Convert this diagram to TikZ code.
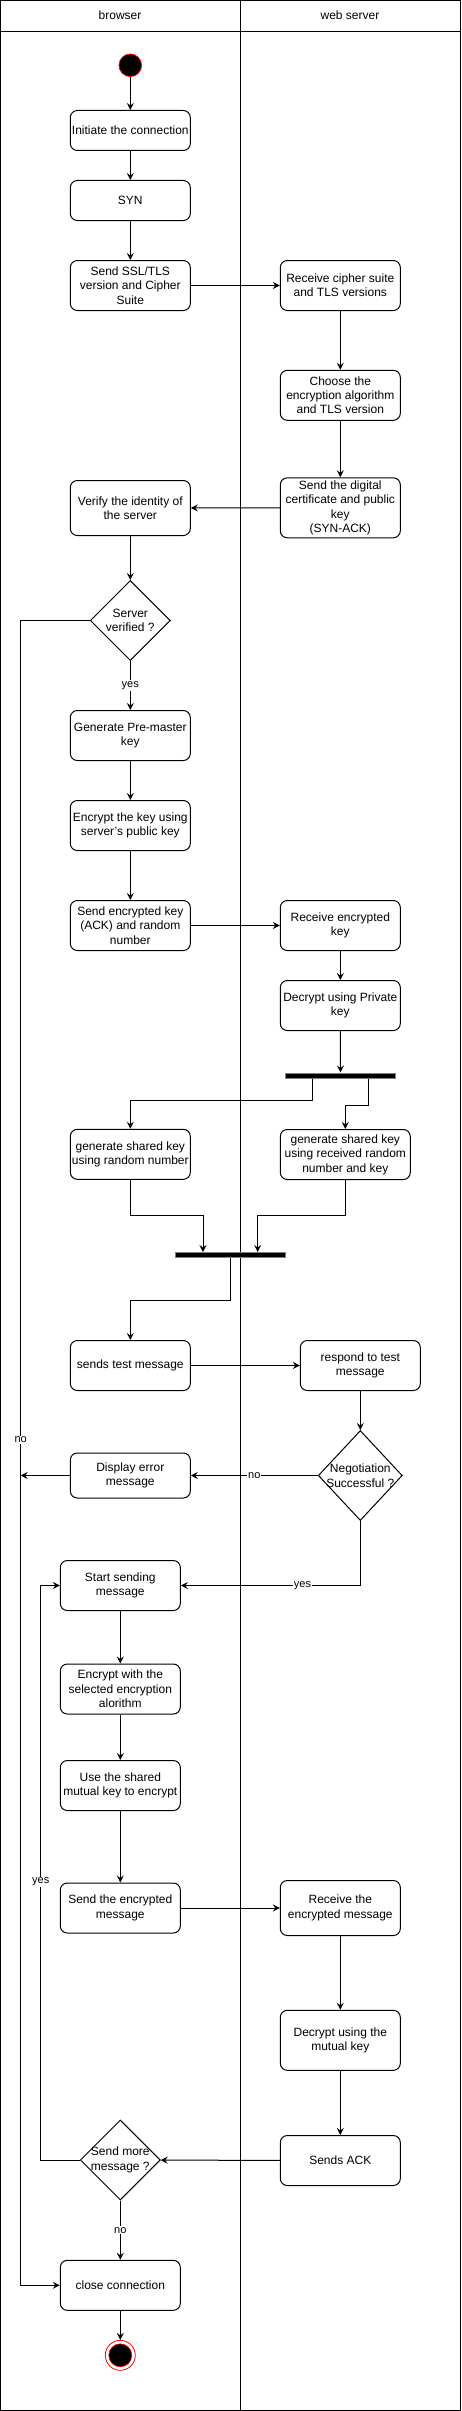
\documentclass[tikz,border=0pt]{standalone}
\usepackage{fontspec}
\setmainfont{Liberation Sans}
\usetikzlibrary{shapes.geometric,arrows.meta,calc,positioning}

\begin{document}
\begin{tikzpicture}[x=1pt,y=-1pt,line width=1pt,
  every node/.style={align=center,font=\fontsize{12}{14.4}\selectfont,inner sep=0pt},
  act/.style={draw,rounded corners=7pt,minimum width=120pt,minimum height=50pt},
  decision/.style={draw,diamond,minimum width=80pt,minimum height=80pt},
  bar/.style={draw=gray,fill=black,minimum width=110pt,minimum height=5pt},
  initial/.style={circle,draw=red,line width=0.8pt,fill=black,minimum size=22.6pt},
  flow/.style={-{Stealth[length=7pt,width=7pt,inset=2.5pt]}},
  lbl/.style={fill=white,font=\fontsize{11}{13}\selectfont,inner sep=1pt}]
\useasboundingbox (0,0) rectangle (462,2411);
% swimlanes
\draw (0.5,0.5) rectangle (460.5,2410.5);
\draw (0.5,31.7) -- (460.5,31.7);
\draw (240.5,0.5) -- (240.5,2410.5);
\node (LaneBrowser) at (120,15) {browser};
\node (LaneServer) at (350,15) {web server};
% handshake
\node [initial] (Start) at (130.3,65.3) {};
\node [act,minimum height=40pt] (Init) at (130.3,130.5) {Initiate the connection};
\node [act,minimum height=40pt] (Syn) at (130.3,200.5) {SYN};
\node [act] (SendVersion) at (130.3,285.5) {Send SSL/TLS\\version and Cipher\\Suite};
\node [act] (RecvSuite) at (340.3,285.5) {Receive cipher suite\\and TLS versions};
\node [act] (Choose) at (340.3,395.3) {Choose the\\encryption algorithm\\and TLS version};
\node [act,minimum height=60pt] (SendCert) at (340.3,507.8) {Send the digital\\certificate and public\\key\\(SYN-ACK)};
\node [act,minimum height=55pt] (Verify) at (130.3,508) {Verify the identity of\\the server};
\node [decision,label={[align=center]center:Server\\verified ?}] (Verified) at (130.3,620.5) {};
\node [act] (PreMaster) at (130.3,735.5) {Generate Pre-master\\key};
\node [act] (EncKey) at (130.3,825.5) {Encrypt the key using\\server's public key};
\node [act] (SendKey) at (130.3,925.5) {Send encrypted key\\(ACK) and random\\number};
\node [act] (RecvKey) at (340.3,925.5) {Receive encrypted\\key};
\node [act] (DecKey) at (340.3,1005.5) {Decrypt using Private\\key};
\node [bar] (Fork) at (340.5,1075.5) {};
\node [act] (SharedB) at (130.3,1154.3) {generate shared key\\using random number};
\node [act,minimum width=130pt] (SharedS) at (345.3,1154.5) {generate shared key\\using received random\\number and key};
\node [bar] (Join) at (230.5,1255) {};
% test
\node [act] (Test) at (130.3,1365.5) {sends test message};
\node [act] (Respond) at (360.3,1365.5) {respond to test\\message};
\node [decision,minimum width=84pt,minimum height=90pt,label={[align=center]center:Negotiation\\Successful ?}] (Negot) at (360.3,1475.5) {};
\node [act,minimum height=45pt] (Error) at (130.3,1475.5) {Display error\\message};
% messages
\node [act] (StartSend) at (120.3,1585.5) {Start sending\\message};
\node [act] (EncAlg) at (120.3,1689) {Encrypt with the\\selected encryption\\alorithm};
\node [act] (Mutual) at (120.3,1785.5) {Use the shared\\mutual key to encrypt};
\node [act] (SendMsg) at (120.3,1908) {Send the encrypted\\message};
\node [act,minimum height=55pt] (RecvMsg) at (340.3,1908) {Receive the\\encrypted message};
\node [act,minimum height=60pt] (DecMsg) at (340.3,2040.3) {Decrypt using the\\mutual key};
\node [act] (Ack) at (340.3,2160.5) {Sends ACK};
\node [decision,label={[align=center]center:Send more\\message ?}] (More) at (120.3,2160) {};
\node [act] (Close) at (120.3,2285.3) {close connection};
\node [circle,draw=red,line width=0.8pt,fill=white,minimum size=30pt] (Stop) at (120.3,2355.3) {};
\filldraw [draw=red,fill=black,line width=0.6pt] (Stop.center) circle (11.5pt);
\coordinate (NoLine) at (20.7,620.5);
\coordinate (YesLine) at (40.7,2160);
% connectors
\draw [flow] (Start) -- (Init);
\draw [flow] (Init) -- (Syn);
\draw [flow] (Syn) -- (SendVersion);
\draw [flow] (SendVersion) -- (RecvSuite);
\draw [flow] (RecvSuite) -- (Choose);
\draw [flow] (Choose) -- (SendCert);
\draw [flow] (SendCert) -- (Verify);
\draw [flow] (Verify) -- (Verified);
\draw [flow] (Verified) -- node [lbl] {yes} (PreMaster);
\draw [flow] (Verified.west) -- (NoLine) |- node [lbl,pos=0.246] {no} (Close.west);
\draw [flow] (PreMaster) -- (EncKey);
\draw [flow] (EncKey) -- (SendKey);
\draw [flow] (SendKey) -- (RecvKey);
\draw [flow] (RecvKey) -- (DecKey);
\draw [flow] (DecKey) -- (Fork);
\draw [flow] ([xshift=-27.8pt]Fork.south) -- ++(0,21.7) -| (SharedB.north);
\draw [flow] ([xshift=27.5pt]Fork.south) -- ++(0,26.7) -| (SharedS.north);
\draw [flow] (SharedB.south) -- ++(0,35.4) -| ([xshift=-27.5pt]Join.north);
\draw [flow] (SharedS.south) -- ++(0,35) -| ([xshift=27.2pt]Join.north);
\draw [flow] (Join.south) -- ++(0,42.3) -| (Test.north);
\draw [flow] (Test) -- (Respond);
\draw [flow] (Respond) -- (Negot);
\draw [flow] (Negot) -- node [lbl] {no} (Error);
\draw [flow] (Error.west) -- (Error.west -| NoLine);
\draw [flow] (Negot.south) |- node [lbl,pos=0.661] {yes} (StartSend.east);
\draw [flow] (StartSend) -- (EncAlg);
\draw [flow] (EncAlg) -- (Mutual);
\draw [flow] (Mutual) -- (SendMsg);
\draw [flow] (SendMsg) -- (RecvMsg);
\draw [flow] (RecvMsg) -- (DecMsg);
\draw [flow] (DecMsg) -- (Ack);
\draw [flow] (Ack) -- (More);
\draw [flow] (More.west) -- (YesLine) |- node [lbl,pos=0.242] {yes} (StartSend.west);
\draw [flow] (More) -- node [lbl] {no} (Close);
\draw [flow] (Close) -- (Stop);
\end{tikzpicture}
\end{document}
